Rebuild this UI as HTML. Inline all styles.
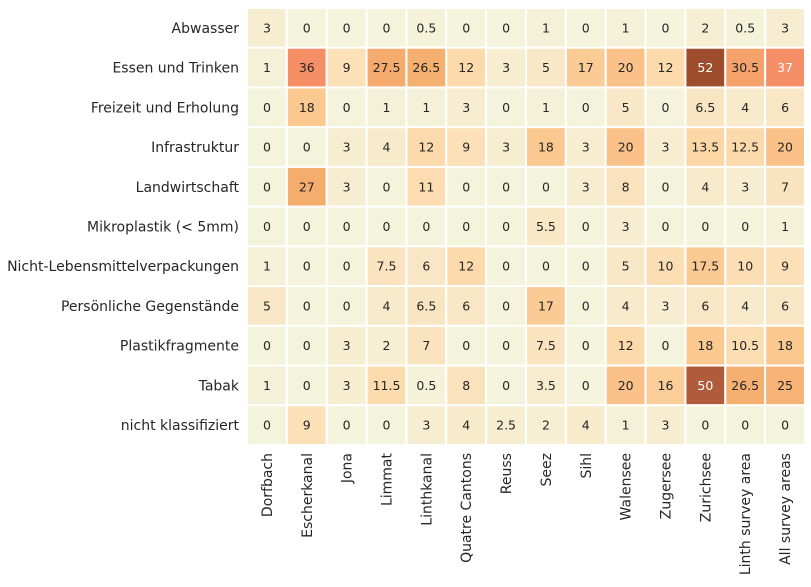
<!DOCTYPE html>
<html><head><meta charset="utf-8"><style>
body{margin:0;background:#fff;font-family:"Liberation Sans","DejaVu Sans",sans-serif;}
svg text{font-family:"DejaVu Sans","Liberation Sans",sans-serif;}
</style></head><body>
<svg id="c" width="811" height="582"></svg>
<script>
const rows=["Abwasser","Essen und Trinken","Freizeit und Erholung","Infrastruktur","Landwirtschaft","Mikroplastik (< 5mm)","Nicht-Lebensmittelverpackungen","Persönliche Gegenstände","Plastikfragmente","Tabak","nicht klassifiziert"];
const cols=["Dorfbach","Escherkanal","Jona","Limmat","Linthkanal","Quatre Cantons","Reuss","Seez","Sihl","Walensee","Zugersee","Zurichsee","Linth survey area","All survey areas"];
const values=[
[3,0,0,0,0.5,0,0,1,0,1,0,2,0.5,3],
[1,36,9,27.5,26.5,12,3,5,17,20,12,52,30.5,37],
[0,18,0,1,1,3,0,1,0,5,0,6.5,4,6],
[0,0,3,4,12,9,3,18,3,20,3,13.5,12.5,20],
[0,27,3,0,11,0,0,0,3,8,0,4,3,7],
[0,0,0,0,0,0,0,5.5,0,3,0,0,0,1],
[1,0,0,7.5,6,12,0,0,0,5,10,17.5,10,9],
[5,0,0,4,6.5,6,0,17,0,4,3,6,4,6],
[0,0,3,2,7,0,0,7.5,0,12,0,18,10.5,18],
[1,0,3,11.5,0.5,8,0,3.5,0,20,16,50,26.5,25],
[0,9,0,0,3,4,2.5,2,4,1,3,0,0,0]];
const stops=[[0,[244,243,220]],[3,[247,237,208]],[6,[249,230,196]],[12,[252,218,172]],[18,[251,200,144]],[27,[245,173,109]],[36,[246,143,101]],[38,[245,140,105]],[50,[176,92,60]],[52,[158,77,44]]];
function color(v){for(let i=1;i<stops.length;i++){if(v<=stops[i][0]){const a=stops[i-1],b=stops[i];const t=(v-a[0])/(b[0]-a[0]);return `rgb(${a[1].map((x,k)=>Math.round(x+(b[1][k]-x)*t)).join(',')})`;}}return 'rgb(158,77,44)';}
const X0=247,X1=805,Y0=8,Y1=445;
const cw=(X1-X0)/cols.length,rh=(Y1-Y0)/rows.length;
const xs=i=>X0+i*cw, ys=j=>Y0+j*rh;
const svg=document.getElementById('c');const NS='http://www.w3.org/2000/svg';
function mk(t,a,p){const e=document.createElementNS(NS,t);for(const k in a)e.setAttribute(k,a[k]);(p||svg).appendChild(e);return e;}
rows.forEach((r,j)=>{
 cols.forEach((c,i)=>{
  const v=values[j][i];
  const rc=mk('rect',{x:xs(i),y:ys(j),width:cw,height:rh,fill:color(v),stroke:'#fff','stroke-width':2});
  
  
  const t=mk('text',{x:xs(i)+cw/2,y:ys(j)+rh/2+4.5,'text-anchor':'middle','font-size':12.5,fill:v>36.5?'#fff':'#262626'});
  t.textContent=String(v);
  
  
 });
 const l=mk('text',{x:X0-8,y:ys(j)+rh/2+5,'text-anchor':'end','font-size':14,fill:'#262626'});
 l.textContent=r;
 
 
});
cols.forEach((c,i)=>{
 const x=xs(i)+cw/2+5,y=Y1+8;
 const l=mk('text',{x:x,y:y,'text-anchor':'end','font-size':14,fill:'#262626',transform:`rotate(-90 ${x} ${y})`});
 l.textContent=c;
 
 
});
</script>
</body></html>
